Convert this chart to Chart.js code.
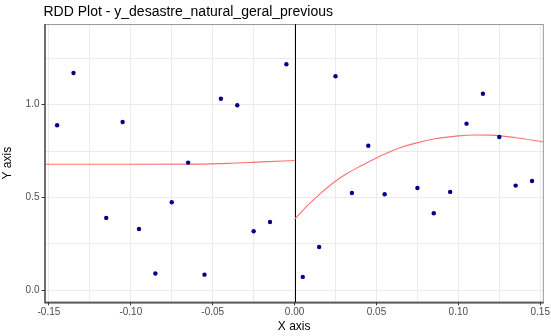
<!DOCTYPE html>
<html>
<head>
<meta charset="utf-8">
<script src="https://cdn.jsdelivr.net/npm/chart.js@4.4.1/dist/chart.umd.min.js"></script>
<style>
  html, body { margin: 0; padding: 0; background: #fff; }
  #wrap { width: 551px; height: 336px; position: relative; }
</style>
</head>
<body>
<div id="wrap"><canvas id="c" width="551" height="336"></canvas></div>
<script>
// ---- data ----
const titleText = "RDD Plot - y_desastre_natural_geral_previous";
const xTitle = "X axis";
const yTitle = "Y axis";

const xLeft  = [-0.145, -0.135, -0.115, -0.105, -0.095, -0.085, -0.075, -0.065, -0.055, -0.045, -0.035, -0.025, -0.015, -0.005];
const yLeft  = [0.889, 1.171, 0.390, 0.907, 0.330, 0.090, 0.474, 0.688, 0.084, 1.032, 0.997, 0.318, 0.368, 1.218];
const xRight = [0.005, 0.015, 0.025, 0.035, 0.045, 0.055, 0.075, 0.085, 0.095, 0.105, 0.115, 0.125, 0.135, 0.145];
const yRight = [0.072, 0.233, 1.153, 0.524, 0.779, 0.517, 0.551, 0.415, 0.530, 0.898, 1.059, 0.826, 0.564, 0.589];

const fitLeftX  = [-0.1527, -0.10, -0.06, -0.04, -0.02, 0];
const fitLeftY  = [0.679, 0.679, 0.680, 0.684, 0.692, 0.699];
const fitRightX = [0, 0.0083, 0.0164, 0.0245, 0.0325, 0.0406, 0.0487, 0.0568, 0.0648, 0.0739, 0.085, 0.100, 0.110, 0.120, 0.135, 0.1522];
const fitRightY = [0.382, 0.460, 0.526, 0.585, 0.632, 0.671, 0.708, 0.741, 0.769, 0.793, 0.815, 0.832, 0.837, 0.836, 0.822, 0.799];

const xTicks = [-0.15, -0.125, -0.10, -0.075, -0.05, -0.025, 0, 0.025, 0.05, 0.075, 0.10, 0.125, 0.15];
const xTickLabels = ["-0.15", "", "-0.10", "", "-0.05", "", "0.00", "", "0.05", "", "0.10", "", "0.15"];
const yTicks = [0, 0.25, 0.5, 0.75, 1.0, 1.25];
const yTickLabels = ["0.0", "", "0.5", "", "1.0", ""];
const cutoff = 0;

// ---- chart ----
const zip = (xs, ys) => xs.map((x, i) => ({ x: x, y: ys[i] }));
const FONT = "'Liberation Sans', Arial, sans-serif";

const extras = {
  id: 'extras',
  beforeDatasetsDraw(chart) {
    const { ctx, chartArea: a, scales } = chart;
    ctx.save();
    ctx.strokeStyle = '#9a9a9a';
    ctx.lineWidth = 1;
    ctx.strokeRect(a.left + 0.5, a.top + 0.5, a.right - a.left - 1, a.bottom - a.top - 1);
    const px = Math.round(scales.x.getPixelForValue(cutoff)) + 0.5;
    ctx.strokeStyle = '#000';
    ctx.beginPath();
    ctx.moveTo(px, a.top);
    ctx.lineTo(px, a.bottom);
    ctx.stroke();
    ctx.restore();
  },
  afterDraw(chart) {
    const { ctx, chartArea: a } = chart;
    ctx.save();
    ctx.strokeStyle = '#333';
    ctx.lineWidth = 1.2;
    ctx.beginPath();
    ctx.moveTo(a.left + 0.5, a.top);
    ctx.lineTo(a.left + 0.5, a.bottom + 0.5);
    ctx.lineTo(a.right, a.bottom + 0.5);
    ctx.stroke();
    ctx.fillStyle = '#000';
    ctx.font = '14px ' + FONT;
    ctx.textBaseline = 'alphabetic';
    ctx.textAlign = 'left';
    ctx.fillText(titleText, a.left - 1, 16);
    ctx.restore();
  }
};

new Chart(document.getElementById('c'), {
  type: 'scatter',
  data: {
    datasets: [
      { type: 'line', data: zip(fitLeftX, fitLeftY), borderColor: '#ff7070', borderWidth: 1.1,
        pointRadius: 0, fill: false, cubicInterpolationMode: 'monotone', order: 2 },
      { type: 'line', data: zip(fitRightX, fitRightY), borderColor: '#ff7070', borderWidth: 1.1,
        pointRadius: 0, fill: false, cubicInterpolationMode: 'monotone', order: 2 },
      { data: zip(xLeft.concat(xRight), yLeft.concat(yRight)), backgroundColor: '#00008b',
        borderColor: '#00008b', pointRadius: 2.2, borderWidth: 0, order: 1 }
    ]
  },
  options: {
    responsive: false,
    animation: false,
    layout: { padding: { top: 24, right: 3.3, left: 0, bottom: 0 } },
    plugins: { legend: { display: false }, tooltip: { enabled: false }, title: { display: false } },
    scales: {
      x: {
        type: 'linear', min: -0.1527, max: 0.1522,
        afterBuildTicks: s => { s.ticks = xTicks.map(v => ({ value: v })); },
        afterFit: s => { s.height = 33.7; },
        ticks: {
          autoSkip: false, maxRotation: 0, padding: 1,
          font: { family: FONT, size: 10 }, color: '#4d4d4d',
          callback: (v, i) => xTickLabels[i]
        },
        grid: {
          color: '#ebebeb', lineWidth: 1, drawTicks: true, tickLength: 3,
          tickColor: ctx => (xTickLabels[ctx.index] ? '#333' : 'rgba(0,0,0,0)')
        },
        border: { display: false },
        title: { display: true, text: xTitle, font: { family: FONT, size: 12 }, color: '#000', padding: { top: 0, bottom: 2 } }
      },
      y: {
        type: 'linear', min: -0.065, max: 1.435,
        afterBuildTicks: s => { s.ticks = yTicks.map(v => ({ value: v })); },
        afterFit: s => { s.width = 44.5; },
        ticks: {
          autoSkip: false, padding: 2,
          font: { family: FONT, size: 10 }, color: '#4d4d4d',
          callback: (v, i) => yTickLabels[i]
        },
        grid: {
          color: '#ebebeb', lineWidth: 1, drawTicks: true, tickLength: 3,
          tickColor: ctx => (yTickLabels[ctx.index] ? '#333' : 'rgba(0,0,0,0)')
        },
        border: { display: false },
        title: { display: true, text: yTitle, font: { family: FONT, size: 12 }, color: '#000', padding: { top: 0, bottom: 0 } }
      }
    }
  },
  plugins: [extras]
});
</script>
</body>
</html>
